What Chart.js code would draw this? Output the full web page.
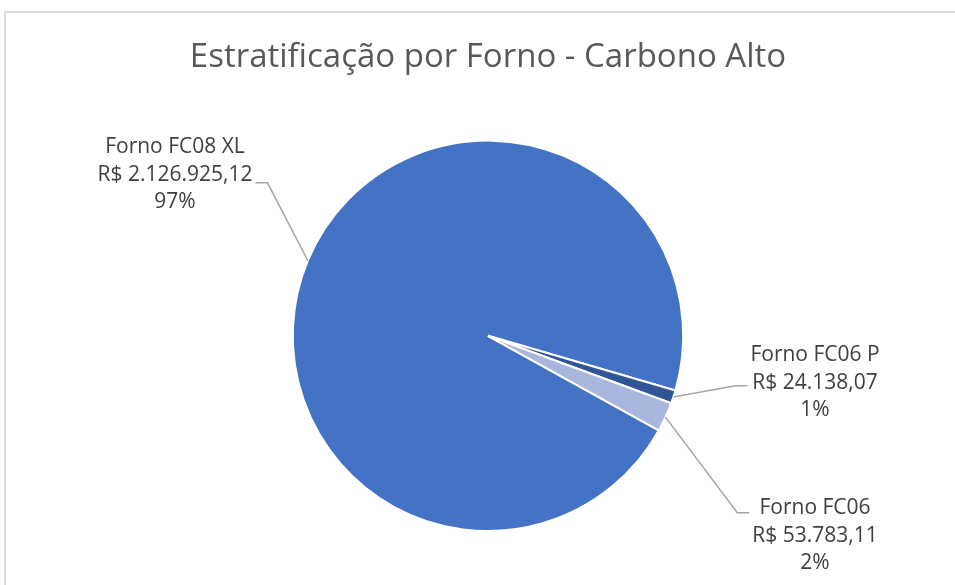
<!DOCTYPE html>
<html lang="pt-BR">
<head>
<meta charset="utf-8">
<title>Estratificação por Forno - Carbono Alto</title>
<script src="https://cdn.jsdelivr.net/npm/chart.js@4.4.1/dist/chart.umd.min.js"></script>
<style>
    html, body { margin: 0; padding: 0; background: #fff; overflow: hidden; }
    .moldura {
        position: absolute; left: 4px; top: 11px;
        width: 970px; height: 600px;
        border: 2px solid #dcdcdc; box-sizing: border-box;
    }
    .grafico { position: absolute; left: 0; top: 0; width: 955px; height: 585px; }
</style>
</head>
<body>
<div class="moldura"></div>
<div class="grafico"><canvas id="graficoForno"></canvas></div>
<script>
// dados do gráfico
const categorias = ['Forno FC08 XL', 'Forno FC06 P', 'Forno FC06'];
const valores = [2126925.12, 24138.07, 53783.11];
const percentuais = [97, 1, 2];   // como aparece nos rótulos

// cores das fatias
const cores = ['#4472C4', '#2F5597', '#A9B7DF'];

// formata valor em reais (R$ 2.126.925,12)
function formatBRL(v) {
    const partes = v.toFixed(2).split('.');
    const inteiro = partes[0].replace(/\B(?=(\d{3})+(?!\d))/g, '.');
    return 'R$ ' + inteiro + ',' + partes[1];
}

// rótulos com linha de chamada
const rotulosPlugin = {
    id: 'rotulos',
    afterDatasetsDraw(chart, args, opts) {
        const ctx = chart.ctx;
        const meta = chart.getDatasetMeta(0);
        ctx.save();
        ctx.font = opts.fonte;
        meta.data.forEach((arc, i) => {
            const p = arc.getProps(['x', 'y', 'outerRadius', 'startAngle', 'endAngle'], true);
            const meio = (p.startAngle + p.endAngle) / 2;
            const px = p.x + Math.cos(meio) * p.outerRadius;
            const py = p.y + Math.sin(meio) * p.outerRadius;

            const pos = opts.posicoes[i];
            const cx = p.x + pos.dx;
            const cy = p.y + pos.dy;
            const linhas = [categorias[i], formatBRL(valores[i]), percentuais[i] + '%'];
            const w = Math.max(...linhas.map(t => ctx.measureText(t).width));

            // lado do texto virado para a pizza
            const lado = pos.dx < 0 ? 1 : -1;
            const ex = cx + lado * (w / 2 + 3);
            const ey = cy + pos.ay;
            const kx = ex + lado * 12;

            ctx.strokeStyle = '#A6A6A6';
            ctx.lineWidth = 1.5;
            ctx.beginPath();
            ctx.moveTo(px, py);
            ctx.lineTo(kx, ey);
            ctx.lineTo(ex, ey);
            ctx.stroke();

            ctx.fillStyle = '#404040';
            ctx.textAlign = 'center';
            ctx.textBaseline = 'middle';
            linhas.forEach((t, j) => {
                ctx.fillText(t, cx, cy + (j - 1) * opts.alturaLinha);
            });
        });
        ctx.restore();
    }
};

const canvas = document.getElementById('graficoForno');
new Chart(canvas.getContext('2d'), {
    type: 'pie',
    data: {
        labels: categorias,
        datasets: [{
            data: valores,
            backgroundColor: cores,
            borderColor: '#ffffff',
            borderWidth: 2,
            hoverOffset: 0
        }]
    },
    options: {
        responsive: true,
        maintainAspectRatio: false,
        animation: false,
        rotation: 119,
        layout: {
            padding: { top: 0, left: 21, right: 0, bottom: 53 }
        },
        plugins: {
            legend: { display: false },
            tooltip: { enabled: false },
            title: {
                display: true,
                text: 'Estratificação por Forno - Carbono Alto',
                color: '#595959',
                font: { family: 'Open Sans', size: 33, weight: 'normal', lineHeight: 1.2 },
                padding: { top: 38, bottom: 62 }
            },
            rotulos: {
                fonte: '21px "Open Sans"',
                alturaLinha: 27.5,
                posicoes: [
                    { dx: -313, dy: -161, ay: 8 },
                    { dx: 327, dy: 47, ay: 3 },
                    { dx: 327, dy: 200, ay: -23 }
                ]
            }
        }
    },
    plugins: [rotulosPlugin]
});
</script>
</body>
</html>
